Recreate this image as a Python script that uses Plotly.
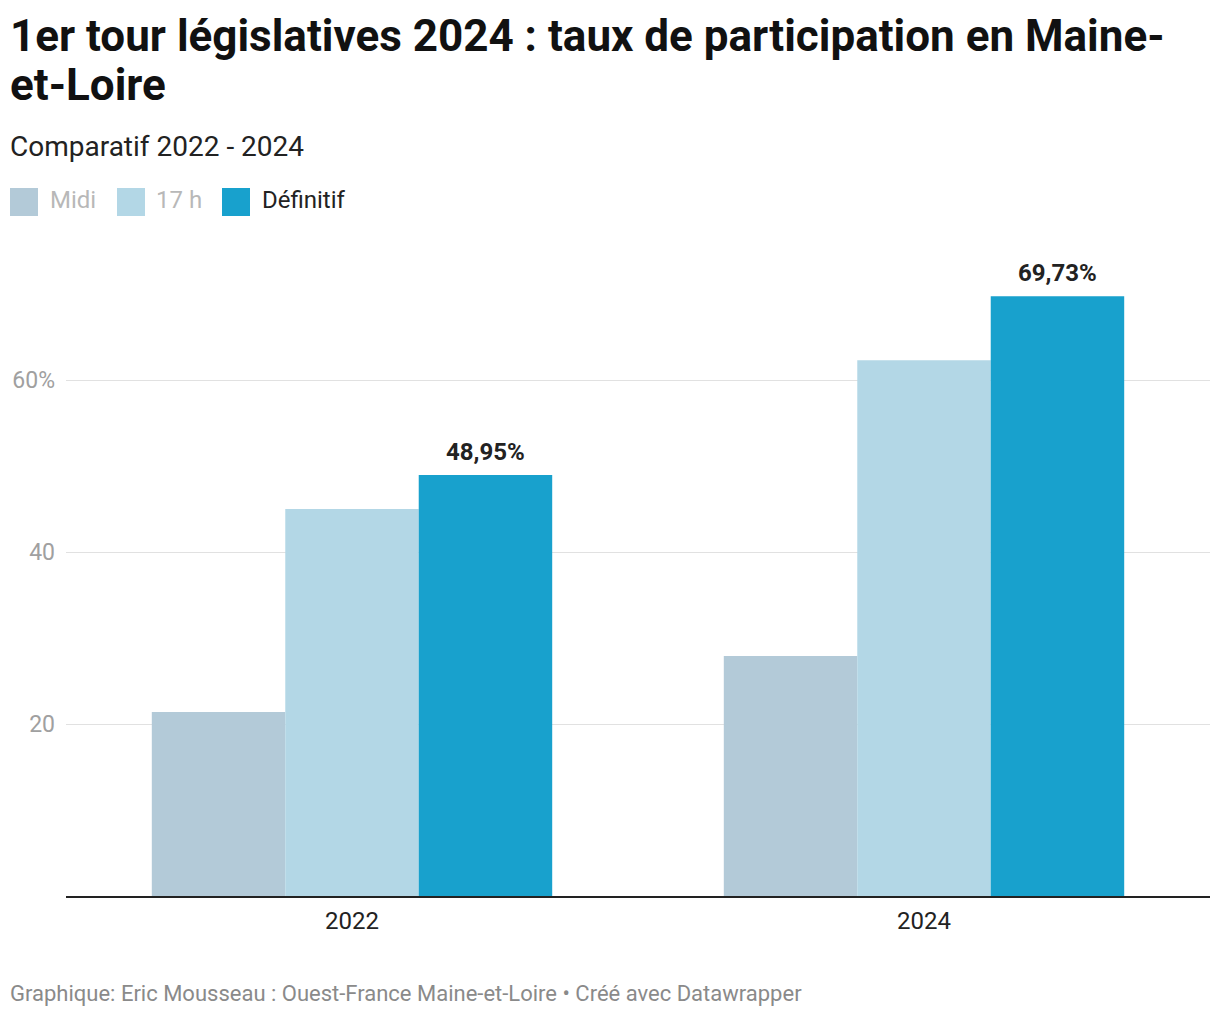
import plotly.graph_objects as go

categories = ["2022", "2024"]
series_names = ["Midi", "17 h", "Définitif"]
midi = [21.4, 27.9]
h17 = [45.0, 62.3]
definitif = [48.95, 69.73]
definitif_labels = ["48,95%", "69,73%"]
colors = ["#b3cad8", "#b3d7e6", "#18a1cd"]
tick_vals = [20, 40, 60]
tick_text = ["20", "40", "60%"]

FONT = "Roboto"
OFF = 8  # page body margin
W, H = 1212, 1010
BARGAP = 0.3
# target screen coordinates of plot area
SX0, SX1, SY0, SY1 = 66, 1210, 250, 896
L = SX0 - OFF
R = W - (SX1 - OFF)
T = SY0 - OFF
B = H - (SY1 - OFF)
PH = H - T - B
PW = W - L - R

def py(spx):
    return (SY1 - spx) / PH

def px_x(spx):
    return (spx - SX0) / PW

fig = go.Figure()
values = [midi, h17, definitif]
for name, vals, col in zip(series_names, values, colors):
    fig.add_trace(go.Bar(x=list(range(len(categories))), y=vals, name=name, marker_color=col,
                         marker_line_width=0, showlegend=False, hoverinfo="skip"))

fig.update_layout(
    width=W, height=H,
    margin=dict(l=L, r=R, t=T, b=B, autoexpand=False),
    paper_bgcolor="white", plot_bgcolor="white",
    barmode="group", bargap=BARGAP, bargroupgap=0,
    font=dict(family=FONT),
    xaxis=dict(showline=True, linecolor="#222222", linewidth=2, ticks="",
               tickmode="array", tickvals=list(range(len(categories))), ticktext=categories,
               range=[-0.5, len(categories) - 0.5],
               tickfont=dict(family=FONT, size=24, color="#222222"),
               ticklabelstandoff=2, automargin=False,
               showgrid=False, zeroline=False, fixedrange=True),
    yaxis=dict(range=[0, PH / 8.6], tickvals=tick_vals, ticktext=tick_text,
               tickfont=dict(family=FONT, size=23, color="#a0a0a0"),
               showgrid=True, gridcolor="#e1e1e1", gridwidth=1, zeroline=False,
               ticks="", ticklabelstandoff=10, showline=False, automargin=False),
)

ann = []
# value labels above the "Définitif" bars (third bar of each group)
group_w = 1 - BARGAP
n_series = len(series_names)
third_center = -group_w / 2 + group_w / n_series * (n_series - 0.5)
for i, (v, lab) in enumerate(zip(definitif, definitif_labels)):
    ann.append(dict(text="<b>" + lab + "</b>", x=i + third_center, y=v, xref="x", yref="y",
                    xanchor="center", yanchor="bottom", yshift=7, showarrow=False,
                    font=dict(family=FONT, size=24, color="#222222")))

for line, yc in [("1er tour législatives 2024 : taux de participation en Maine-", 36),
                 ("et-Loire", 85)]:
    ann.append(dict(text="<b>" + line + "</b>",
                    x=px_x(8), y=py(yc), xref="paper", yref="paper", xanchor="left",
                    yanchor="middle", align="left", showarrow=False,
                    font=dict(family=FONT, size=44, color="#111111")))
ann.append(dict(text="Comparatif 2022 - 2024", x=px_x(8), y=py(147), xref="paper", yref="paper",
                xanchor="left", yanchor="middle", showarrow=False,
                font=dict(family=FONT, size=28, color="#222222")))
ann.append(dict(text="Graphique: Eric Mousseau : Ouest-France Maine-et-Loire • Créé avec Datawrapper",
                x=px_x(8), y=py(993), xref="paper", yref="paper", xanchor="left", yanchor="middle",
                showarrow=False, font=dict(family=FONT, size=22, color="#8a8a8a")))

legend_pos = [(10, 48), (117, 154), (222, 260)]
legend_text_colors = ["#b8b8b8", "#b8b8b8", "#222222"]
shapes = []
for name, col, (sx, tx), tc in zip(series_names, colors, legend_pos, legend_text_colors):
    shapes.append(dict(type="rect", xref="paper", yref="paper",
                       x0=px_x(sx), x1=px_x(sx + 28), y0=py(216), y1=py(188),
                       fillcolor=col, line=dict(width=0)))
    ann.append(dict(text=name, x=px_x(tx), y=py(200), xref="paper", yref="paper",
                    xanchor="left", yanchor="middle", showarrow=False,
                    font=dict(family=FONT, size=24, color=tc)))

fig.update_layout(annotations=ann, shapes=shapes)
fig.write_html("out.html")
